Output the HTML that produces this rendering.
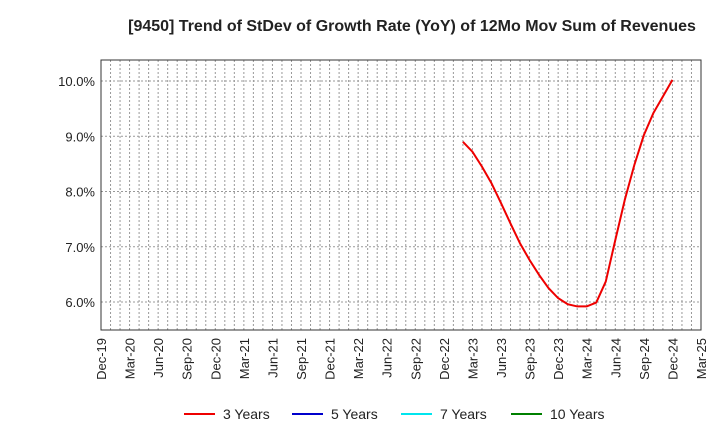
<!DOCTYPE html>
<html><head><meta charset="utf-8"><style>
body{margin:0;background:#fff;font-family:"Liberation Sans",sans-serif}
</style></head><body>
<svg id="c" width="720" height="440" xmlns="http://www.w3.org/2000/svg" font-family="Liberation Sans, sans-serif"></svg>
<script>
const xLabels=["Dec-19","Mar-20","Jun-20","Sep-20","Dec-20","Mar-21","Jun-21","Sep-21","Dec-21","Mar-22","Jun-22","Sep-22","Dec-22","Mar-23","Jun-23","Sep-23","Dec-23","Mar-24","Jun-24","Sep-24","Dec-24","Mar-25"];
const yTicks=[6,7,8,9,10];
const seriesStartMonth=38;
const series3y=[8.90,8.72,8.45,8.15,7.79,7.42,7.06,6.76,6.49,6.25,6.07,5.96,5.92,5.92,5.99,6.37,7.12,7.85,8.48,9.02,9.42,9.72,10.02];
const legendNames=["3 Years","5 Years","7 Years","10 Years"];
const legendColors=["#ee0000","#0000cc","#00e5ee","#008000"];

const svg=document.getElementById('c');const NS="http://www.w3.org/2000/svg";
const L=101,R=701,T=60,B=330,monthW=600/63;
const X=m=>L+m*monthW;
const Y=v=>81+(10-v)*55.25;
function mk(t,a,p){const e=document.createElementNS(NS,t);for(const k in a)e.setAttribute(k,a[k]);(p||svg).appendChild(e);return e;}
const title=mk('text',{x:412,y:31,'text-anchor':'middle','font-size':16,'font-weight':'bold',fill:'#222'});


title.textContent="[9450]  Trend of StDev of Growth Rate (YoY) of 12Mo Mov Sum of Revenues";
const grid=mk('g',{stroke:'#999','stroke-width':1,'stroke-dasharray':'2,2'});


for(let m=1;m<64;m++){if(X(m)<R)mk('line',{x1:X(m),x2:X(m),y1:T,y2:B},grid);}
yTicks.forEach(v=>{mk('line',{x1:L,x2:R,y1:Y(v),y2:Y(v)},grid);
const t=mk('text',{x:L-6,y:Y(v)+5,'text-anchor':'end','font-size':13,fill:'#222'});


t.textContent=v.toFixed(1)+"%";});
const frame=mk('rect',{x:L,y:T,width:R-L,height:B-T,fill:'none',stroke:'#333','stroke-width':1});


xLabels.forEach((s,i)=>{const x=X(i*3);
const t=mk('text',{x:0,y:0,'text-anchor':'end','font-size':13,fill:'#222',transform:`translate(${x+5},${B+8}) rotate(-90)`});


t.textContent=s;});
const pts=series3y.map((v,i)=>X(seriesStartMonth+i)+','+Y(v)).join(' ');
const line=mk('polyline',{points:pts,fill:'none',stroke:'#ee0000','stroke-width':2});


const lx=[184,292,401,511];
legendNames.forEach((n,i)=>{const g=mk('g',{});


mk('line',{x1:lx[i],x2:lx[i]+31,y1:414,y2:414,stroke:legendColors[i],'stroke-width':2},g);
const t=mk('text',{x:lx[i]+39,y:419,'font-size':14,fill:'#222'},g);t.textContent=n;});
</script>
</body></html>
